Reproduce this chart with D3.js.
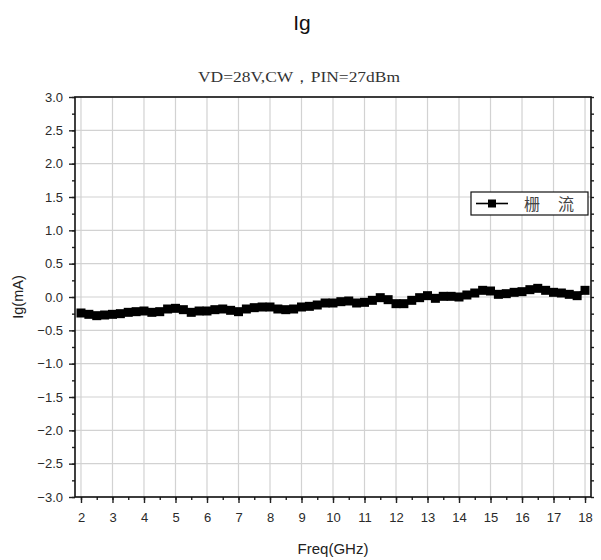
<!DOCTYPE html>
<html><head><meta charset="utf-8">
<script src="https://cdn.jsdelivr.net/npm/d3@7"></script>
<style>body{margin:0;background:#fff}</style>
</head><body>
<svg id="c" width="601" height="560"></svg>
<script>
const title = "Ig";
const subtitle = "VD=28V,CW，PIN=27dBm";
const xLabel = "Freq(GHz)";
const yLabel = "Ig(mA)";
const seriesName = "栅 流";
const freq = [2.0,2.25,2.5,2.75,3.0,3.25,3.5,3.75,4.0,4.25,4.5,4.75,5.0,5.25,5.5,5.75,6.0,6.25,6.5,6.75,7.0,7.25,7.5,7.75,8.0,8.25,8.5,8.75,9.0,9.25,9.5,9.75,10.0,10.25,10.5,10.75,11.0,11.25,11.5,11.75,12.0,12.25,12.5,12.75,13.0,13.25,13.5,13.75,14.0,14.25,14.5,14.75,15.0,15.25,15.5,15.75,16.0,16.25,16.5,16.75,17.0,17.25,17.5,17.75,18.0];
const ig = [-0.24,-0.26,-0.28,-0.27,-0.26,-0.25,-0.23,-0.22,-0.21,-0.23,-0.22,-0.18,-0.17,-0.19,-0.23,-0.21,-0.21,-0.19,-0.18,-0.2,-0.22,-0.18,-0.16,-0.15,-0.15,-0.18,-0.19,-0.18,-0.15,-0.14,-0.12,-0.09,-0.09,-0.07,-0.06,-0.09,-0.08,-0.05,-0.01,-0.04,-0.1,-0.1,-0.05,-0.01,0.02,-0.02,0.01,0.01,0.0,0.03,0.06,0.1,0.09,0.04,0.05,0.07,0.08,0.11,0.13,0.1,0.07,0.06,0.04,0.02,0.1];
const xTicks = d3.range(2, 19, 1);
const xMinor = d3.range(2, 18.01, 0.5);
const yTicks = d3.range(-3, 3.01, 0.5);
const yMinor = d3.range(-3, 3.01, 0.25);

const svg = d3.select("#c");
const L = 75, R = 591, T = 97, B = 497;
const x = d3.scaleLinear().domain([1.81, 18.19]).range([L, R]);
const y = d3.scaleLinear().domain([-3, 3]).range([B, T]);

// grid
svg.append("g").selectAll("line").data(xTicks).join("line")
  .attr("x1", d => x(d)).attr("x2", d => x(d)).attr("y1", T).attr("y2", B)
  .attr("stroke", "#d2d2d2").attr("stroke-width", 1.2);
svg.append("g").selectAll("line").data(yTicks).join("line")
  .attr("y1", d => y(d)).attr("y2", d => y(d)).attr("x1", L).attr("x2", R)
  .attr("stroke", "#d2d2d2").attr("stroke-width", 1.2);

// axes
const fmt = d3.format(".1f");
const ax = svg.append("g").attr("transform", `translate(0,${B})`)
  .call(d3.axisBottom(x).tickValues(xTicks).tickFormat(d3.format("d")).tickSize(6).tickSizeOuter(0));
svg.append("g").attr("transform", `translate(0,${B})`)
  .call(d3.axisBottom(x).tickValues(xMinor).tickFormat("").tickSize(3).tickSizeOuter(0))
  .select(".domain").remove();
const ay = svg.append("g").attr("transform", `translate(${L},0)`)
  .call(d3.axisLeft(y).tickValues(yTicks).tickFormat(d => fmt(Math.abs(d) < 1e-9 ? 0 : d)).tickSize(6).tickSizeOuter(0));
svg.append("g").attr("transform", `translate(${L},0)`)
  .call(d3.axisLeft(y).tickValues(yMinor).tickFormat("").tickSize(3).tickSizeOuter(0))
  .select(".domain").remove();
svg.append("g").attr("transform", `translate(${R},0)`)
  .call(d3.axisRight(y).tickValues(yMinor).tickFormat("").tickSize(3).tickSizeOuter(0))
  .select(".domain").remove();

svg.selectAll(".tick line").attr("stroke", "#222").attr("stroke-width", 1.4);
svg.selectAll(".tick text").attr("font-family", "Liberation Sans, Arial, sans-serif")
  .attr("font-size", 13).attr("fill", "#2a2a2a");
ax.selectAll(".tick text").attr("dy", "1.25em");
ay.selectAll(".tick text").attr("x", -12);

// frame
svg.append("rect").attr("x", L).attr("y", T).attr("width", R - L).attr("height", B - T)
  .attr("fill", "none").attr("stroke", "#111").attr("stroke-width", 1.6);
svg.selectAll(".domain").remove();

// data
const pts = freq.map((f, i) => [f, ig[i]]);
svg.append("path").datum(pts)
  .attr("d", d3.line().x(d => x(d[0])).y(d => y(d[1])))
  .attr("fill", "none").attr("stroke", "#000").attr("stroke-width", 4);
svg.append("g").selectAll("rect").data(pts).join("rect")
  .attr("x", d => x(d[0]) - 4.5).attr("y", d => y(d[1]) - 4.5)
  .attr("width", 9).attr("height", 9).attr("fill", "#000");

// legend
const lg = svg.append("g");
lg.append("rect").attr("x", 471).attr("y", 192).attr("width", 117).attr("height", 23)
  .attr("fill", "#fff").attr("stroke", "#111").attr("stroke-width", 1.2);
lg.append("line").attr("x1", 476).attr("x2", 508).attr("y1", 203.5).attr("y2", 203.5)
  .attr("stroke", "#000").attr("stroke-width", 1.6);
lg.append("rect").attr("x", 488).attr("y", 199.5).attr("width", 8).attr("height", 8).attr("fill", "#000");
lg.append("text").attr("x", 524).attr("y", 209.5).text(seriesName)
  .attr("font-family", "Noto Sans CJK SC, sans-serif").attr("font-size", 16).attr("fill", "#444")
  .attr("textLength", 50).attr("lengthAdjust", "spacing");

// titles
svg.append("text").attr("x", 302).attr("y", 30).attr("text-anchor", "middle").text(title)
  .attr("font-family", "Liberation Sans, sans-serif").attr("font-size", 21).attr("fill", "#111");
svg.append("text").attr("x", 299).attr("y", 82).attr("text-anchor", "middle").text(subtitle)
  .attr("font-family", "Liberation Serif, DejaVu Serif, serif").attr("font-size", 15).attr("fill", "#333")
  .attr("textLength", 202).attr("lengthAdjust", "spacingAndGlyphs");
svg.append("text").attr("x", 333).attr("y", 554).attr("text-anchor", "middle").text(xLabel)
  .attr("font-family", "Liberation Sans, Arial, sans-serif").attr("font-size", 15).attr("fill", "#222");
svg.append("text").attr("transform", `translate(23,${y(0)}) rotate(-90)`).attr("text-anchor", "middle").text(yLabel)
  .attr("font-family", "Liberation Sans, Arial, sans-serif").attr("font-size", 14.5).attr("fill", "#222");
</script>
</body></html>
